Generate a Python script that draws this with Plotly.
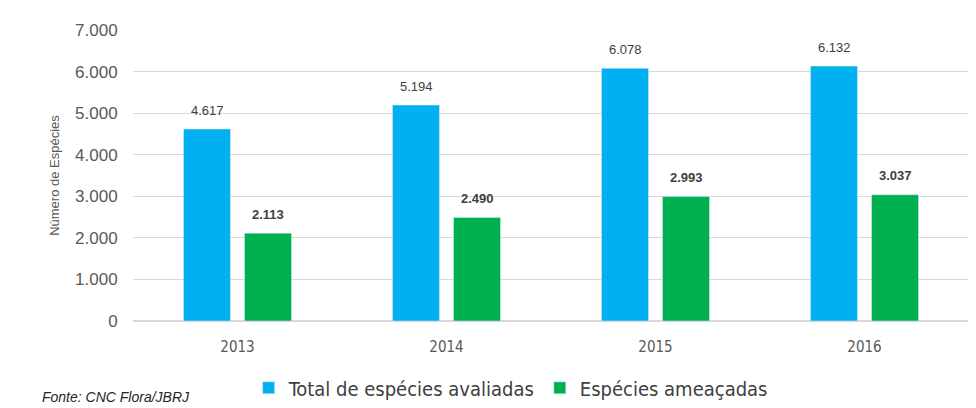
import plotly.graph_objects as go

YEARS = ["2013", "2014", "2015", "2016"]
TOTAL_AVALIADAS = [4617, 5194, 6078, 6132]
AMEACADAS = [2113, 2490, 2993, 3037]
Y_TICKS = [0, 1000, 2000, 3000, 4000, 5000, 6000, 7000]

BLUE = "#00B0F0"
GREEN = "#00B050"
NARROW = "DejaVu Sans Condensed, Liberation Sans Narrow, sans-serif"
LABEL_FONT = dict(family="Liberation Sans, Arial", size=13, color="#404040")


def fmt(v):
    return f"{v:,}".replace(",", ".")


fig = go.Figure()
fig.add_trace(go.Bar(x=YEARS, y=TOTAL_AVALIADAS, name="Total de espécies avaliadas",
                     marker=dict(color=BLUE)))
fig.add_trace(go.Bar(x=YEARS, y=AMEACADAS, name="Espécies ameaçadas",
                     marker=dict(color=GREEN)))

# value labels above the bars (x as category index, "2013" would be read as an index)
for i, v in enumerate(TOTAL_AVALIADAS):
    fig.add_annotation(x=i, y=v, text=fmt(v), showarrow=False, xshift=-30.5, yshift=19,
                       font=LABEL_FONT)
for i, v in enumerate(AMEACADAS):
    fig.add_annotation(x=i, y=v, text=f"<b>{fmt(v)}</b>", showarrow=False, xshift=30.5, yshift=19,
                       font=LABEL_FONT)

fig.add_annotation(xref="paper", yref="paper", x=-0.111, y=-0.262, xanchor="left", yanchor="middle",
                   text="<i>Fonte: CNC Flora/JBRJ</i>", showarrow=False,
                   font=dict(family="Liberation Sans Narrow, Liberation Sans, Arial", size=14, color="#262626"))

# page body has an 8px margin, so the margins are set 8px less on top/left
fig.update_layout(
    width=976, height=408,
    margin=dict(l=125, r=15, t=22, b=95),
    plot_bgcolor="white", paper_bgcolor="white",
    barmode="group", bargap=0.416, bargroupgap=0.23,
    showlegend=True,
    legend=dict(orientation="h", xref="container", yref="container",
                x=0.515, xanchor="center", y=0.069, yanchor="middle",
                font=dict(family=NARROW, size=20, color="#404040")),
    xaxis=dict(type="category", tickfont=dict(family=NARROW, size=15, color="#595959"),
               showgrid=False, zeroline=False, showline=False, automargin=False,
               ticks="outside", ticklen=12, tickcolor="white"),
    yaxis=dict(range=[0, 7000], tickvals=Y_TICKS, ticktext=[fmt(t) for t in Y_TICKS],
               tickfont=dict(family="Liberation Sans, Arial", size=17, color="#595959"),
               gridcolor="#d9d9d9", zerolinecolor="#d9d9d9", showline=False, automargin=False,
               ticks="outside", ticklen=11, tickcolor="white",
               title=dict(text="Número de Espécies", standoff=12,
                          font=dict(family="Liberation Sans, Arial", size=13, color="#595959"))),
)

fig.write_html("out.html")
